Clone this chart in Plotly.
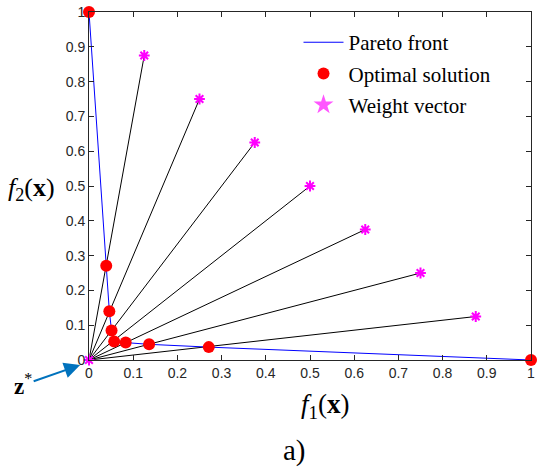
import plotly.graph_objects as go

# Data
pareto_f1 = [0.0, 0.039, 0.046, 0.051, 0.057, 0.083, 0.136, 0.271, 1.0]
pareto_f2 = [1.0, 0.271, 0.140, 0.085, 0.053, 0.050, 0.045, 0.037, 0.0]
opt_f1 = [0.0, 0.039, 0.046, 0.051, 0.057, 0.083, 0.136, 0.271, 1.0]
opt_f2 = [1.0, 0.271, 0.140, 0.085, 0.053, 0.050, 0.045, 0.037, 0.0]
w1 = [0.125, 0.25, 0.375, 0.5, 0.625, 0.75, 0.875]
w2 = [0.875, 0.75, 0.625, 0.5, 0.375, 0.25, 0.125]
ideal = [0.0, 0.0]
ticks = [0, 0.1, 0.2, 0.3, 0.4, 0.5, 0.6, 0.7, 0.8, 0.9, 1]
tick_labels = ["0", "0.1", "0.2", "0.3", "0.4", "0.5", "0.6", "0.7", "0.8", "0.9", "1"]

fig = go.Figure()

# rays from ideal point to weight vectors
for a, b in zip(w1, w2):
    fig.add_trace(go.Scatter(x=[ideal[0], a], y=[ideal[1], b], mode="lines",
                             line=dict(color="black", width=1), showlegend=False,
                             hoverinfo="skip"))

fig.add_trace(go.Scatter(x=pareto_f1, y=pareto_f2, mode="lines",
                         line=dict(color="#0000FF", width=1), name="Pareto front",
                         legendgroup="a"))
fig.add_trace(go.Scatter(x=opt_f1, y=opt_f2, mode="markers",
                         marker=dict(color="#FF0000", size=12), name="Optimal solution",
                         cliponaxis=False, legendgroup="b"))
fig.add_trace(go.Scatter(x=w1 + [ideal[0]], y=w2 + [ideal[1]], mode="markers",
                         marker=dict(color="#FF00FF", size=9, symbol="asterisk-open",
                                     line=dict(color="#FF00FF", width=2)),
                         showlegend=False, cliponaxis=False))
# legend entry for weight vectors
fig.add_trace(go.Scatter(x=[None], y=[None], mode="markers",
                         marker=dict(color="#FF55FF", size=15, symbol="star"),
                         name="Weight vector", legendgroup="c"))

axis_common = dict(range=[0, 1], tickmode="array", tickvals=ticks, ticktext=tick_labels,
                   ticks="inside", ticklen=5, tickcolor="#262626", showgrid=False,
                   zeroline=False, showline=True, linecolor="#262626", linewidth=1,
                   mirror="ticks", tickfont=dict(family="Liberation Sans", size=14, color="#262626"))

fig.update_layout(
    width=539, height=471,
    margin=dict(l=89, r=4, t=10, b=111),
    plot_bgcolor="white", paper_bgcolor="white",
    xaxis=dict(**axis_common),
    yaxis=dict(**axis_common),
    legend=dict(x=0.474, y=0.971, xanchor="left", yanchor="top", itemwidth=40,
                font=dict(family="Liberation Serif", size=21, color="black"),
                bgcolor="rgba(0,0,0,0)", tracegroupgap=1),
    annotations=[
        dict(text="<i>f</i><sub>2</sub>(<b>x</b>)", xref="paper", yref="paper",
             x=-0.13, y=0.49, xanchor="center", yanchor="middle", showarrow=False,
             font=dict(family="Liberation Serif", size=26, color="black")),
        dict(text="<i>f</i><sub>1</sub>(<b>x</b>)", xref="paper", yref="paper",
             x=0.534, y=-0.133, xanchor="center", yanchor="middle", showarrow=False,
             font=dict(family="Liberation Serif", size=27, color="black")),
        dict(text="a)", xref="paper", yref="paper", x=0.464, y=-0.26,
             xanchor="center", yanchor="middle", showarrow=False,
             font=dict(family="Liberation Serif", size=29, color="black")),
        dict(text="<b>z</b><sup>*</sup>", x=-0.020, y=-0.0143, xref="paper", yref="paper",
             showarrow=True, ax=-57, ay=20, arrowhead=2, arrowsize=1.6, arrowwidth=2,
             arrowcolor="#0072BD",
             font=dict(family="Liberation Serif", size=23, color="black")),
    ],
)

fig.write_html("out.html")
